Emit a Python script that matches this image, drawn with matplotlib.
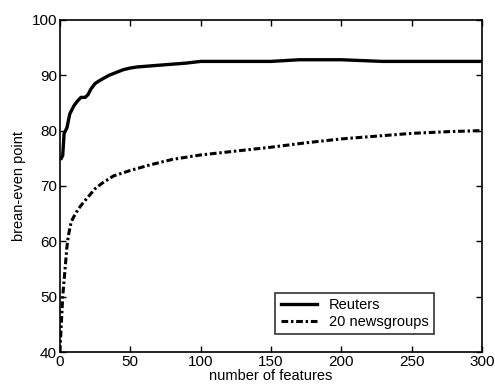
import matplotlib
matplotlib.use("Agg")
import matplotlib.pyplot as plt

reuters_x = [1, 2, 3, 4, 5, 7, 10, 13, 15, 18, 20, 22, 25, 28, 30, 35, 40, 45, 50, 55, 60, 70, 80, 90, 100, 120, 150, 170, 200, 229, 250, 300]
reuters_y = [75, 75.5, 79.5, 80, 80.5, 83, 84.5, 85.5, 86, 86, 86.5, 87.5, 88.5, 89, 89.3, 90, 90.5, 91, 91.3, 91.5, 91.6, 91.8, 92, 92.2, 92.5, 92.5, 92.5, 92.8, 92.8, 92.5, 92.5, 92.5]

news_x = [0, 1, 2, 3, 4, 5, 6, 8, 10, 13, 16, 20, 25, 30, 38, 50, 64, 80, 100, 125, 150, 175, 200, 225, 250, 275, 300]
news_y = [40, 45, 50, 53, 56, 59, 61, 63.5, 64.5, 65.8, 66.8, 68, 69.5, 70.5, 71.8, 72.8, 73.8, 74.8, 75.6, 76.3, 77, 77.8, 78.5, 79, 79.5, 79.8, 80]

x_ticks = [0, 50, 100, 150, 200, 250, 300]
y_ticks = [40, 50, 60, 70, 80, 90, 100]

plt.rcParams['font.family'] = ['Liberation Sans', 'DejaVu Sans']
fig = plt.figure(figsize=(4.95, 3.9), dpi=100)
ax = fig.add_axes([0.121, 0.0974, 0.853, 0.8516])

ax.plot(reuters_x, reuters_y, color='black', lw=2.4, linestyle='-', label='Reuters')
ax.plot(news_x, news_y, color='black', lw=2.2, linestyle=(0, (2.2, 0.9, 0.8, 0.9)), label='20 newsgroups')

ax.set_xlim(0, 300)
ax.set_ylim(40, 100)
ax.set_xticks(x_ticks)
ax.set_yticks(y_ticks)
ax.tick_params(direction='in', top=True, right=True, labelsize=11, length=4, width=1, pad=2)
for s in ax.spines.values():
    s.set_linewidth(1.2)
ax.set_xlabel('number of features', fontsize=10.5, labelpad=0)
ax.set_ylabel('brean-even point', fontsize=10.5, labelpad=4)

leg = ax.legend(loc='lower right', bbox_to_anchor=(0.885, 0.055), fontsize=10.5, frameon=True,
                fancybox=False, edgecolor='black', handlelength=2.5, borderpad=0.35,
                labelspacing=0.2, handletextpad=0.8, borderaxespad=0)
leg.get_frame().set_linewidth(1.2)

fig.savefig('out.png', dpi=100)
